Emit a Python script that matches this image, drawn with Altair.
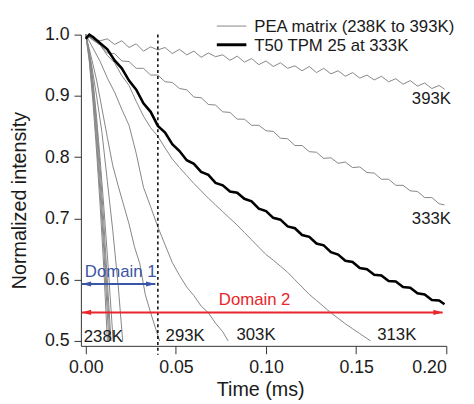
import altair as alt
import pandas as pd

# ---------------- data ----------------
T_LONG = [0.000, 0.004, 0.008, 0.012, 0.016, 0.020, 0.024, 0.028, 0.032, 0.036,
          0.040, 0.044, 0.048, 0.052, 0.056, 0.060, 0.064, 0.068, 0.072, 0.076,
          0.080, 0.084, 0.088, 0.092, 0.096, 0.100, 0.104, 0.108, 0.112, 0.116,
          0.120, 0.124, 0.128, 0.132, 0.136, 0.140, 0.144, 0.148, 0.152, 0.156,
          0.160, 0.164, 0.168, 0.172, 0.176, 0.180, 0.184, 0.188, 0.192, 0.196,
          0.199]

V_393K = [1.000, 0.992, 0.990, 0.993, 0.984, 0.990, 0.979, 0.985, 0.973, 0.980,
          0.975, 0.979, 0.969, 0.976, 0.967, 0.973, 0.963, 0.970, 0.964, 0.967,
          0.958, 0.965, 0.955, 0.961, 0.951, 0.957, 0.948, 0.954, 0.945, 0.949,
          0.941, 0.948, 0.938, 0.945, 0.936, 0.941, 0.932, 0.938, 0.929, 0.934,
          0.926, 0.932, 0.923, 0.928, 0.919, 0.925, 0.916, 0.921, 0.912, 0.917,
          0.911]

V_333K = [1.000, 0.991, 0.983, 0.970, 0.969, 0.957, 0.956, 0.945, 0.945, 0.934,
          0.934, 0.923, 0.922, 0.912, 0.910, 0.898, 0.897, 0.886, 0.885, 0.874,
          0.873, 0.862, 0.862, 0.852, 0.852, 0.843, 0.842, 0.831, 0.830, 0.819,
          0.819, 0.809, 0.808, 0.798, 0.799, 0.790, 0.792, 0.783, 0.784, 0.775,
          0.774, 0.764, 0.764, 0.754, 0.754, 0.745, 0.744, 0.734, 0.734, 0.724,
          0.722]

T_313K = [0.000, 0.004, 0.008, 0.012, 0.016, 0.020, 0.024, 0.028, 0.032, 0.036,
          0.040, 0.044, 0.048, 0.052, 0.056, 0.060, 0.064, 0.068, 0.072, 0.076,
          0.080, 0.084, 0.088, 0.092, 0.096, 0.100, 0.104, 0.108, 0.112, 0.116,
          0.120, 0.124, 0.128, 0.132, 0.136, 0.140, 0.144, 0.148, 0.152, 0.156,
          0.158]
V_313K = [1.000, 0.992, 0.983, 0.966, 0.954, 0.933, 0.917, 0.891, 0.867, 0.848,
          0.834, 0.815, 0.797, 0.783, 0.770, 0.757, 0.745, 0.733, 0.722, 0.711,
          0.700, 0.689, 0.677, 0.665, 0.653, 0.641, 0.632, 0.622, 0.612, 0.600,
          0.588, 0.576, 0.566, 0.556, 0.546, 0.537, 0.528, 0.520, 0.512, 0.504,
          0.500]

T_303K = [0.000, 0.004, 0.008, 0.012, 0.016, 0.020, 0.024, 0.028, 0.032, 0.036,
          0.040, 0.044, 0.048, 0.052, 0.056, 0.060, 0.064, 0.068, 0.072, 0.076,
          0.079]
V_303K = [1.000, 0.978, 0.956, 0.929, 0.906, 0.878, 0.852, 0.806, 0.751, 0.719,
          0.686, 0.657, 0.628, 0.607, 0.588, 0.574, 0.557, 0.546, 0.529, 0.515,
          0.500]

T_293K = [0.000, 0.003, 0.006, 0.009, 0.012, 0.015, 0.018, 0.021, 0.024, 0.027,
          0.030, 0.033, 0.036, 0.039, 0.041]
V_293K = [1.000, 0.964, 0.926, 0.879, 0.832, 0.786, 0.753, 0.722, 0.691, 0.654,
          0.626, 0.576, 0.546, 0.518, 0.500]

# steep low-temperature traces (238K ...)
T_S1 = [0.000, 0.002, 0.004, 0.006, 0.008, 0.010, 0.0120]
V_S1 = [1.000, 0.955, 0.890, 0.810, 0.720, 0.620, 0.500]
T_S2 = [0.000, 0.002, 0.004, 0.006, 0.008, 0.010, 0.0128]
V_S2 = [1.000, 0.960, 0.900, 0.825, 0.740, 0.650, 0.500]
T_S3 = [0.000, 0.002, 0.004, 0.006, 0.008, 0.010, 0.0135]
V_S3 = [1.000, 0.965, 0.910, 0.840, 0.760, 0.670, 0.500]
T_S4 = [0.000, 0.002, 0.004, 0.006, 0.008, 0.010, 0.0140]
V_S4 = [1.000, 0.970, 0.920, 0.855, 0.780, 0.695, 0.500]
T_S5 = [0.000, 0.002, 0.004, 0.006, 0.008, 0.010, 0.012, 0.0152]
V_S5 = [1.000, 0.970, 0.925, 0.865, 0.795, 0.720, 0.640, 0.500]
T_S6 = [0.000, 0.003, 0.006, 0.009, 0.012, 0.015, 0.018, 0.0205]
V_S6 = [1.000, 0.955, 0.900, 0.840, 0.760, 0.680, 0.590, 0.500]

T_T50 = [0.000, 0.002, 0.004, 0.008, 0.012, 0.016, 0.020, 0.024, 0.028, 0.032,
         0.036, 0.040, 0.044, 0.048, 0.052, 0.056, 0.060, 0.064, 0.068, 0.072,
         0.076, 0.080, 0.084, 0.088, 0.092, 0.096, 0.100, 0.104, 0.108, 0.112,
         0.116, 0.120, 0.124, 0.128, 0.132, 0.136, 0.140, 0.144, 0.148, 0.152,
         0.156, 0.160, 0.164, 0.168, 0.172, 0.176, 0.180, 0.184, 0.188, 0.192,
         0.196, 0.199]
V_T50 = [0.993, 1.000, 0.996, 0.986, 0.976, 0.958, 0.945, 0.925, 0.910, 0.888,
         0.874, 0.851, 0.840, 0.821, 0.810, 0.795, 0.789, 0.776, 0.771, 0.758,
         0.754, 0.744, 0.742, 0.732, 0.728, 0.716, 0.712, 0.701, 0.698, 0.687,
         0.684, 0.673, 0.670, 0.659, 0.656, 0.645, 0.641, 0.631, 0.629, 0.619,
         0.617, 0.608, 0.607, 0.598, 0.597, 0.588, 0.587, 0.578, 0.576, 0.567,
         0.566, 0.560]

CURVE_LABELS = ["238K", "293K", "303K", "313K", "333K", "393K"]
LABEL_T = [-0.0011, 0.0443, 0.0836, 0.1617, 0.1809, 0.1809]
LABEL_V = [0.4984, 0.5000, 0.5016, 0.5016, 0.6910, 0.8860]

DOMAIN_NAMES = ["Domain 1", "Domain 2"]
DOMAIN_START = [-0.0022, -0.0022]
DOMAIN_END = [0.0386, 0.1980]
DOMAIN_LEVEL = [0.593, 0.5466]
DOMAIN_COLORS = ["#3a55a6", "#e8262b"]
DOMAIN_TEXT_T = [-0.0005, 0.0738]
DOMAIN_TEXT_V = [0.6045, 0.5595]

BOUNDARY_T = [0.04]

X_TICKS = [0.00, 0.05, 0.10, 0.15, 0.20]
Y_TICKS = [0.5, 0.6, 0.7, 0.8, 0.9, 1.0]

LEGEND_LABELS = ["PEA matrix (238K to 393K)", "T50 TPM 25 at 333K"]

# ---------------- tables ----------------
grey_sets = [
    ("393K", T_LONG, V_393K), ("333K", T_LONG, V_333K), ("313K", T_313K, V_313K),
    ("303K", T_303K, V_303K), ("293K", T_293K, V_293K),
    ("S1", T_S1, V_S1), ("S2", T_S2, V_S2), ("S3", T_S3, V_S3),
    ("S4", T_S4, V_S4), ("S5", T_S5, V_S5), ("S6", T_S6, V_S6),
]
rows = []
for name, ts, vs in grey_sets:
    for t, v in zip(ts, vs):
        rows.append({"curve": name, "t": t, "v": v})
grey_df = pd.DataFrame(rows)
black_df = pd.DataFrame({"t": T_T50, "v": V_T50})
labels_df = pd.DataFrame({"label": CURVE_LABELS, "t": LABEL_T, "v": LABEL_V})
dom_df = pd.DataFrame({"name": DOMAIN_NAMES, "start": DOMAIN_START, "end": DOMAIN_END,
                       "level": DOMAIN_LEVEL, "color": DOMAIN_COLORS,
                       "tt": DOMAIN_TEXT_T, "tv": DOMAIN_TEXT_V})
bound_df = pd.DataFrame({"t": BOUNDARY_T, "top": [1.0], "bottom": [0.4775]})

FONT = "Liberation Sans"
XS = alt.Scale(domain=[-0.0027, 0.2], nice=False, zero=False)
YS = alt.Scale(domain=[0.492, 1.0], nice=False, zero=False)

x_axis = alt.Axis(values=X_TICKS, format=".2f", title="Time (ms)", grid=False,
                  labelFontSize=18, tickSize=8, labelPadding=5,
                  titleFontSize=20, titleFontWeight="normal",
                  titleX=182, titleY=50, titleBaseline="alphabetic")
y_axis = alt.Axis(values=Y_TICKS, format=".1f", title="Normalized intensity", grid=False,
                  labelFontSize=18, tickSize=7, labelPadding=5,
                  titleFontSize=20, titleFontWeight="normal",
                  titleX=-62, titleY=168, titleAngle=270, titleBaseline="middle",
                  titleAlign="center")

grey = alt.Chart(grey_df).mark_line(color="#858585", strokeWidth=1).encode(
    x=alt.X("t:Q", scale=XS, axis=x_axis),
    y=alt.Y("v:Q", scale=YS, axis=y_axis),
    detail="curve:N", order="t:Q")

black = alt.Chart(black_df).mark_line(color="#000000", strokeWidth=2.6).encode(
    x=alt.X("t:Q", scale=XS), y=alt.Y("v:Q", scale=YS), order="t:Q")

boundary = alt.Chart(bound_df).mark_rule(color="#000000", strokeWidth=1.5,
                                         strokeDash=[3, 3]).encode(
    x=alt.X("t:Q", scale=XS), y=alt.Y("top:Q", scale=YS), y2="bottom:Q")

arrows = alt.Chart(dom_df).mark_rule(strokeWidth=2).encode(
    x=alt.X("start:Q", scale=XS), x2="end:Q", y=alt.Y("level:Q", scale=YS),
    color=alt.Color("color:N", scale=None))
head_l = alt.Chart(dom_df).mark_point(shape="M0,0L2,-0.55L2,0.55Z", filled=True,
                                      size=90, opacity=1).encode(
    x=alt.X("start:Q", scale=XS), y=alt.Y("level:Q", scale=YS),
    color=alt.Color("color:N", scale=None))
head_r = alt.Chart(dom_df).mark_point(shape="M0,0L-2,-0.55L-2,0.55Z", filled=True,
                                      size=90, opacity=1).encode(
    x=alt.X("end:Q", scale=XS), y=alt.Y("level:Q", scale=YS),
    color=alt.Color("color:N", scale=None))
dom_text = alt.Chart(dom_df).mark_text(align="left", baseline="alphabetic",
                                       fontSize=17, font=FONT).encode(
    x=alt.X("tt:Q", scale=XS), y=alt.Y("tv:Q", scale=YS), text="name:N",
    color=alt.Color("color:N", scale=None))

curve_text = alt.Chart(labels_df).mark_text(align="left", baseline="alphabetic",
                                            fontSize=17, font=FONT, color="#1a1a1a").encode(
    x=alt.X("t:Q", scale=XS), y=alt.Y("v:Q", scale=YS), text="label:N")

leg1_line = alt.Chart(pd.DataFrame({"k": [LEGEND_LABELS[0]]})).mark_rule(
    color="#858585", strokeWidth=1).encode(
    x=alt.value(138), x2=alt.value(168), y=alt.value(-8.7))
leg2_line = alt.Chart(pd.DataFrame({"k": [LEGEND_LABELS[1]]})).mark_rule(
    color="#000000", strokeWidth=3).encode(
    x=alt.value(138), x2=alt.value(168), y=alt.value(10.3))
leg1_text = alt.Chart(pd.DataFrame({"k": [LEGEND_LABELS[0]]})).mark_text(
    align="left", baseline="alphabetic", fontSize=17, font=FONT, color="#1a1a1a").encode(
    x=alt.value(176), y=alt.value(-2.7), text="k:N")
leg2_text = alt.Chart(pd.DataFrame({"k": [LEGEND_LABELS[1]]})).mark_text(
    align="left", baseline="alphabetic", fontSize=17, font=FONT, color="#1a1a1a").encode(
    x=alt.value(176), y=alt.value(16.3), text="k:N")

chart = alt.layer(
    grey, black, boundary, arrows, head_l, head_r, dom_text, curve_text,
    leg1_line, leg2_line, leg1_text, leg2_text
).properties(
    width=371, height=316,
    autosize=alt.AutoSizeParams(type="none"),
    padding={"left": 74, "top": 24, "right": 20, "bottom": 56},
).configure_view(stroke=None).configure_axis(
    labelFont=FONT, titleFont=FONT, labelColor="#1a1a1a", titleColor="#1a1a1a",
    domainColor="#333333", tickColor="#333333", domainWidth=1, tickWidth=1,
)

chart.save("out.html", embed_options={"renderer": "svg", "actions": False})
